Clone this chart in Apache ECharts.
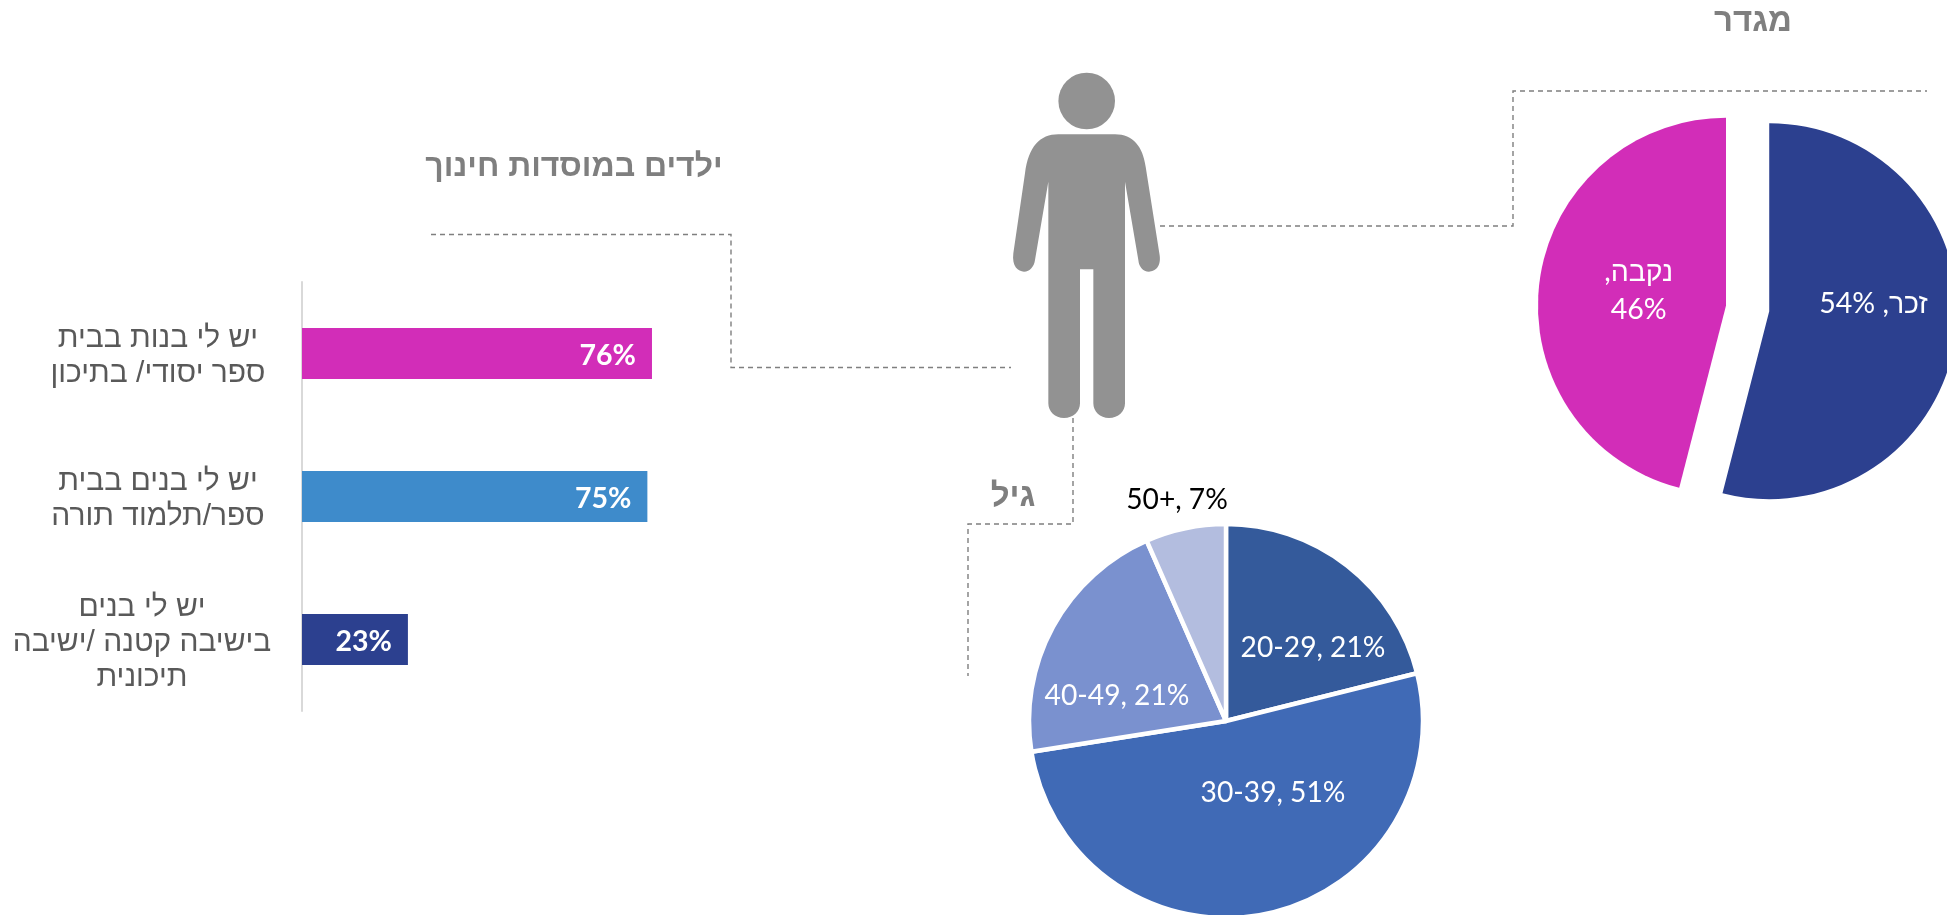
<!DOCTYPE html>
<html lang="he">
<head>
<meta charset="utf-8">
<style>html,body{margin:0;padding:0;background:#fff;overflow:hidden}#c{width:1947px;height:915px}</style>
<script src="https://cdn.jsdelivr.net/npm/echarts@6/dist/echarts.min.js"></script>
</head>
<body>
<div id="c"></div>
<script>
const barCategories = ['יש לי בנות בבית\nספר יסודי/ בתיכון', 'יש לי בנים בבית\nספר/תלמוד תורה', 'יש לי בנים\nבישיבה קטנה /ישיבה\nתיכונית'];
const barValues = [76, 75, 23];
const barColors = ['#D22DB8', '#3E8BCB', '#2C408F'];
const genderNames = ['זכר', 'נקבה'];
const genderValues = [54, 46];
const genderColors = ['#2C408F', '#D22DB8'];
const ageNames = ['20-29', '30-39', '40-49', '50+'];
const ageValues = [21.1, 51.4, 20.9, 6.6];
const ageColors = ['#345A9B', '#406AB6', '#7A91CF', '#B3BDDF'];
const ageLabelColors = ['#fff', '#fff', '#fff', '#000'];
const titles = ['ילדים במוסדות חינוך', 'מגדר', 'גיל'];

const HEB = '"Liberation Sans", sans-serif';
const NUM = 'Lato, "Liberation Sans", sans-serif';
const RLI = '\u2067', PDI = '\u2069';

const personPath = 'M295 253 L465 253 C520 253 548 290 557 350 L598 610 C606 650 585 665 567 665 C548 665 537 650 535 630 L495 395 L495 1060 C495 1085 475 1104 447 1104 C420 1104 400 1085 400 1060 L400 658 L360 658 L360 1060 C360 1085 340 1104 312 1104 C285 1104 265 1085 265 1060 L265 395 L225 630 C222 650 210 665 192 665 C175 665 155 650 160 610 L195 370 C205 290 240 253 295 253 Z';
echarts.graphic.registerShape('person', echarts.graphic.extendPath(personPath, {}));

const dash = { stroke: '#7F7F7F', lineWidth: 1.4, lineDash: [5, 4], fill: null };
const callout = pts => ({ type: 'polyline', shape: { points: pts }, style: dash, silent: true });
const heading = (text, x, y, size) => ({
  type: 'text', silent: true,
  style: { text, x, y, align: 'center', verticalAlign: 'middle', fill: '#7F7F7F', font: `bold ${size}px ${HEB}` }
});

const genderLabelPadding = [[0, 0, 40, 16], [0, 0, 6, 18]];
const ageLabelPos = [[1313, 648], [1273, 793], [1117, 696], [1177, 500]];
const place = pos => p => ({ x: pos[p.dataIndex][0], y: pos[p.dataIndex][1], align: 'center', verticalAlign: 'middle' });
const categoryPadding = [[0, 0, -38, 32], [0, 0, -38, 32], [0, 0, -55.5, 0]];

const chart = echarts.init(document.getElementById('c'), null, { renderer: 'canvas' });
chart.setOption({
  animation: false,
  backgroundColor: '#fff',
  grid: { left: 302, top: 282, width: 460.5, height: 429, outerBoundsMode: 'none', containLabel: false },
  xAxis: { type: 'value', min: 0, max: 100, show: false },
  yAxis: {
    type: 'category', inverse: true,
    data: barCategories.map((c, i) => ({
      value: c,
      textStyle: { align: 'center', verticalAlign: 'bottom', padding: categoryPadding[i] }
    })),
    axisTick: { show: false },
    axisLine: { show: true, lineStyle: { color: '#D9D9D9', width: 2 } },
    axisLabel: { color: '#595959', fontFamily: HEB, fontSize: 30, lineHeight: 35, align: 'center', margin: 160, interval: 0 }
  },
  series: [
    {
      type: 'bar', barWidth: 51, silent: true,
      data: barValues.map((v, i) => ({ value: v, itemStyle: { color: barColors[i] } })),
      label: { show: true, position: 'insideRight', distance: 16, offset: [0, 2], color: '#fff', fontFamily: NUM, fontWeight: 'bold', fontSize: 28.5, formatter: '{c}%' }
    },
    {
      type: 'pie', center: [1747.6, 308.5], radius: 188, startAngle: 90, clockwise: true,
      selectedMode: 'multiple', selectedOffset: 21.8, silent: true,
      avoidLabelOverlap: false, labelLine: { show: false },
      select: { itemStyle: { borderWidth: 0 } },
      data: genderNames.map((n, i) => ({
        name: n, value: genderValues[i], selected: true,
        itemStyle: { color: genderColors[i] },
        label: { padding: genderLabelPadding[i] }
      })),
      label: {
        show: true, position: 'inside', align: 'center',
        rich: { a: { color: '#fff', fontFamily: NUM, fontSize: 28.5, lineHeight: 38, align: 'center' } },
        formatter: p => p.dataIndex === 0
          ? `{a|${RLI}${p.name}, ${p.value}%${PDI}}`
          : `{a|${RLI}${p.name},${PDI}}\n{a|${p.value}%}`
      }
    },
    {
      type: 'pie', center: [1226, 721], radius: 197, startAngle: 90, clockwise: true, silent: true,
      avoidLabelOverlap: false, labelLine: { show: false },
      itemStyle: { borderColor: '#fff', borderWidth: 4.5 },
      data: ageNames.map((n, i) => ({
        name: n, value: ageValues[i],
        itemStyle: { color: ageColors[i] },
        label: { color: ageLabelColors[i] }
      })),
      label: { show: true, position: 'inside', fontFamily: NUM, fontSize: 28.2, formatter: p => `${p.name}, ${Math.round(p.value)}%` },
      labelLayout: place(ageLabelPos)
    }
  ],
  graphic: { elements: [
    callout([[431, 234.5], [731, 234.5], [731, 367.5], [1011, 367.5]]),
    callout([[1160, 226], [1513, 226], [1513, 91], [1927, 91]]),
    callout([[1073, 418], [1073, 524], [968, 524], [968, 676]]),
    { type: 'circle', shape: { cx: 1086.7, cy: 101, r: 28.3 }, style: { fill: '#929292' }, silent: true },
    { type: 'person', x: 960, y: 50, scaleX: 1 / 3, scaleY: 1 / 3, style: { fill: '#929292' }, silent: true },
    heading(titles[0], 574, 167, 32),
    heading(titles[1], 1753, 22, 33),
    heading(titles[2], 1013, 497, 33)
  ] }
});
</script>
</body>
</html>
